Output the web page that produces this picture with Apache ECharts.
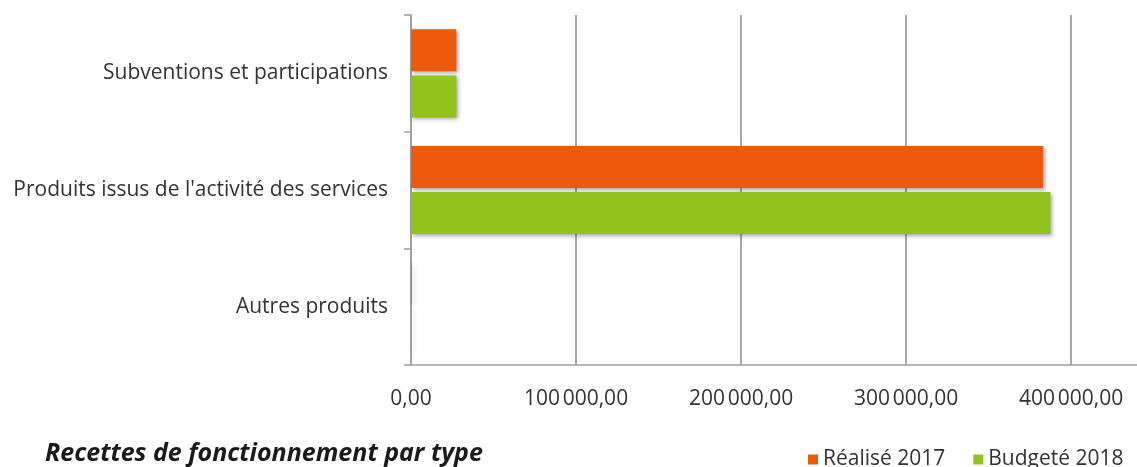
<!DOCTYPE html>
<html>
<head>
<meta charset="utf-8">
<script src="https://cdn.jsdelivr.net/npm/echarts@6/dist/echarts.min.js"></script>
<style>
  html, body { margin: 0; padding: 0; background: #fff; overflow: hidden; }
  /* canvas runs a little past the right edge so the value axis continues off-page */
  #chart { width: 1160px; height: 467px; }
</style>
</head>
<body>
<div id="chart"></div>
<script>
// Categories listed bottom to top (category axis on y starts at the bottom)
const categories = ['Autres produits', "Produits issus de l'activité des services", 'Subventions et participations'];
const realise2017 = [400, 383000, 27500];
const budgete2018 = [300, 387500, 27500];
const seriesNames = ['Réalisé 2017', 'Budgeté 2018'];
const xTicks = [0, 100000, 200000, 300000, 400000];

const FONT = '"Open Sans", sans-serif';
const ORANGE = '#EE5A0B';
const GREEN = '#90C31C';

function frNumber(v) {
  const parts = v.toFixed(2).split('.');
  const intPart = parts[0].replace(/\B(?=(\d{3})+(?!\d))/g, '\u202F');
  return intPart + ',' + parts[1];
}

const chart = echarts.init(document.getElementById('chart'), null, { renderer: 'canvas' });

const barShadow = {
  shadowColor: 'rgba(0,0,0,0.35)',
  shadowBlur: 4,
  shadowOffsetX: 2,
  shadowOffsetY: 2
};

chart.setOption({
  animation: false,
  backgroundColor: '#ffffff',
  title: {
    text: 'Recettes de fonctionnement par type',
    left: 40,
    top: 436,
    textStyle: {
      fontFamily: FONT,
      fontSize: 25,
      fontWeight: 'bold',
      fontStyle: 'italic',
      color: '#1a1a1a'
    }
  },
  legend: {
    data: seriesNames,
    left: 803,
    top: 444,
    itemWidth: 10,
    itemHeight: 10,
    itemGap: 28,
    icon: 'rect',
    textStyle: { fontFamily: FONT, fontSize: 21, color: '#333' }
  },
  grid: {
    left: 411,
    width: 736,
    top: 15,
    height: 350,
    containLabel: false
  },
  xAxis: {
    type: 'value',
    min: 0,
    max: 446000,
    interval: 100000,
    axisLine: { show: true, lineStyle: { color: '#a0a0a0', width: 1.5 } },
    axisTick: { show: false },
    splitLine: { show: true, lineStyle: { color: '#8c8c8c', width: 1.5 } },
    axisLabel: {
      margin: 24,
      fontFamily: FONT,
      fontSize: 21,
      color: '#333',
      showMaxLabel: false,
      formatter: function (v) { return xTicks.indexOf(v) >= 0 ? frNumber(v) : ''; }
    }
  },
  yAxis: {
    type: 'category',
    data: categories,
    axisLine: { show: true, lineStyle: { color: '#a0a0a0', width: 1.5 } },
    axisTick: { show: true, length: 7, lineStyle: { color: '#a0a0a0', width: 1.5 } },
    axisLabel: {
      margin: 23,
      fontFamily: FONT,
      fontSize: 21,
      color: '#333'
    }
  },
  series: [
    {
      name: seriesNames[0],
      type: 'bar',
      data: realise2017,
      barWidth: 42,
      barGap: '10%',
      itemStyle: Object.assign({ color: ORANGE }, barShadow)
    },
    {
      name: seriesNames[1],
      type: 'bar',
      data: budgete2018,
      barWidth: 42,
      barGap: '10%',
      itemStyle: Object.assign({ color: GREEN }, barShadow)
    }
  ]
});
</script>
</body>
</html>
